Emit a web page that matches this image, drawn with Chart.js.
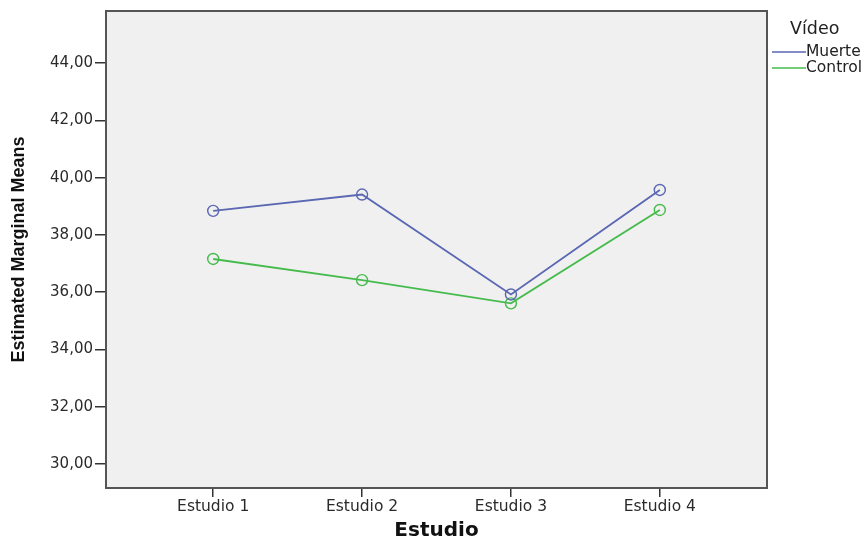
<!DOCTYPE html>
<html>
<head>
<meta charset="utf-8">
<script src="https://cdn.jsdelivr.net/npm/chart.js@4.4.1/dist/chart.umd.min.js"></script>
<style>
  html, body { margin: 0; padding: 0; background: #fff; }
  #wrap { width: 865px; height: 543px; }
</style>
</head>
<body>
<div id="wrap"><canvas id="myChart" width="865" height="543"></canvas></div>
<script>
// estimated marginal means
const categories = ["Estudio 1", "Estudio 2", "Estudio 3", "Estudio 4"];
const muerte = [38.84, 39.41, 35.92, 39.57];
const control = [37.16, 36.42, 35.61, 38.87];
const yTicks = [30, 32, 34, 36, 38, 40, 42, 44];
const seriesNames = ["Muerte", "Control"];
const seriesColors = ["#5a67b2", "#45bb4c"];

const toPoints = (arr) => arr.map((v, i) => ({ x: i + 1, y: v }));

// grey plot area + frame
const framePlugin = {
    id: "frame",
    beforeDraw(chart) {
        const { ctx, chartArea: a } = chart;
        ctx.save();
        ctx.fillStyle = "#fff";
        ctx.fillRect(0, 0, chart.width, chart.height);
        ctx.fillStyle = "#f0f0f0";
        ctx.fillRect(a.left, a.top, a.right - a.left, a.bottom - a.top);
        ctx.restore();
    },
    afterDraw(chart) {
        const { ctx, chartArea: a } = chart;
        ctx.save();
        ctx.strokeStyle = "#555";
        ctx.lineWidth = 2;
        ctx.strokeRect(a.left, a.top, a.right - a.left, a.bottom - a.top);
        ctx.restore();
    }
};

// legend in the SPSS style: title then short lines
const legendPlugin = {
    id: "spssLegend",
    afterDraw(chart) {
        const ctx = chart.ctx;
        const x0 = chart.chartArea.right + 5;
        ctx.save();
        ctx.font = "17.5px 'DejaVu Sans'";
        ctx.fillStyle = "#222";
        ctx.textBaseline = "middle";
        ctx.fillText("Vídeo", x0 + 18, 29);
        ctx.font = "15.5px 'DejaVu Sans'";
        chart.data.datasets.forEach((ds, i) => {
            const y = 52 + i * 16;
            ctx.strokeStyle = ds.borderColor;
            ctx.lineWidth = 1.5;
            ctx.beginPath();
            ctx.moveTo(x0, y);
            ctx.lineTo(x0 + 34, y);
            ctx.stroke();
            ctx.fillStyle = "#222";
            ctx.fillText(ds.label, x0 + 34, y);
        });
        ctx.restore();
    }
};

const data = {
    datasets: [muerte, control].map((arr, i) => ({
        label: seriesNames[i],
        data: toPoints(arr),
        borderColor: seriesColors[i],
        backgroundColor: "rgba(0,0,0,0)",
        borderWidth: 1.9,
        pointRadius: 5.5,
        pointBorderWidth: 1.4,
        pointBackgroundColor: "rgba(0,0,0,0)",
        pointBorderColor: seriesColors[i],
        tension: 0
    }))
};

new Chart("myChart", {
    type: "line",
    data: data,
    plugins: [framePlugin, legendPlugin],
    options: {
        responsive: false,
        animation: false,
        layout: { padding: { top: 11, right: 98, left: 0, bottom: 0 } },
        plugins: { legend: { display: false }, tooltip: { enabled: false } },
        scales: {
            x: {
                type: "linear",
                min: 0.28,
                max: 4.72,
                afterBuildTicks: (scale) => {
                    scale.ticks = categories.map((c, i) => ({ value: i + 1 }));
                },
                afterFit: (scale) => { scale.height = 55; },
                border: { display: false },
                grid: { drawOnChartArea: false, drawTicks: true, tickLength: 9, color: "#333", lineWidth: 1.5 },
                ticks: {
                    autoSkip: false,
                    maxRotation: 0,
                    padding: 1,
                    color: "#2a2a2a",
                    font: { family: "'DejaVu Sans'", size: 15.5 },
                    callback: (v) => categories[v - 1]
                },
                title: {
                    display: true,
                    text: "Estudio",
                    color: "#111",
                    padding: { top: 10, bottom: 0 },
                    font: { family: "'DejaVu Sans'", size: 20, weight: "bold" }
                }
            },
            y: {
                min: 29.16,
                max: 45.82,
                afterBuildTicks: (scale) => {
                    scale.ticks = yTicks.map((v) => ({ value: v }));
                },
                afterFit: (scale) => { scale.width = 106; },
                border: { display: false },
                grid: { drawOnChartArea: false, drawTicks: true, tickLength: 11, color: "#333", lineWidth: 1.5 },
                ticks: {
                    padding: 2,
                    color: "#2a2a2a",
                    font: { family: "'DejaVu Sans'", size: 15 },
                    callback: (v) => v.toFixed(2).replace(".", ",")
                },
                title: {
                    display: true,
                    text: "Estimated Marginal Means",
                    color: "#111",
                    padding: { top: 8, bottom: 0 },
                    font: { family: "'Liberation Sans Narrow', 'Liberation Sans'", size: 18, weight: "bold" }
                }
            }
        }
    }
});
</script>
</body>
</html>
